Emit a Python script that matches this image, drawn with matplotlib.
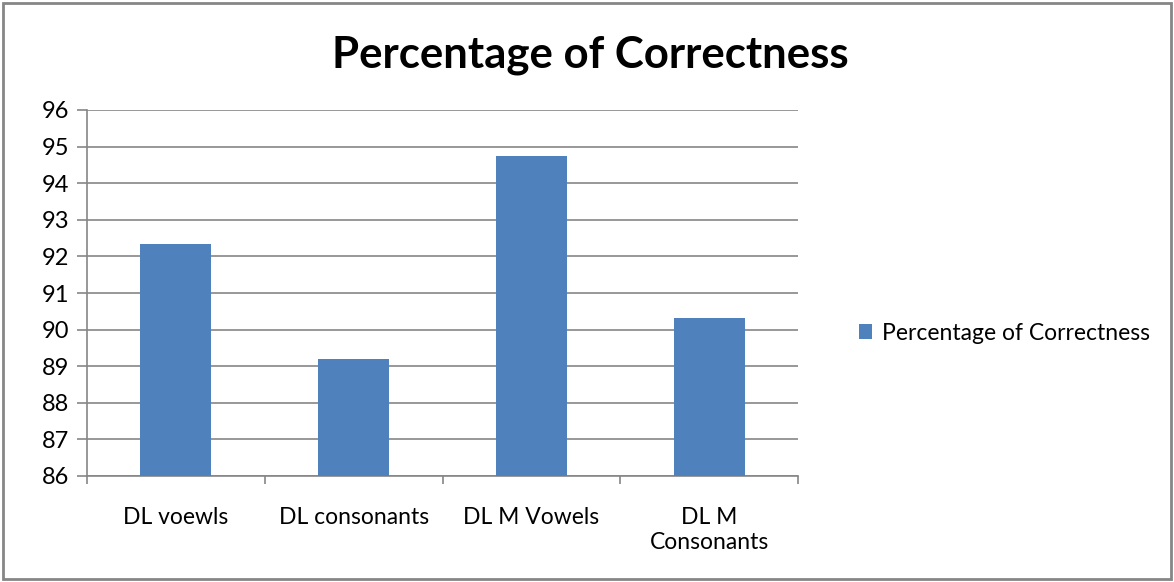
import matplotlib.pyplot as plt
from matplotlib.patches import Rectangle
import numpy as np

categories = ["DL voewls", "DL consonants", "DL M Vowels", "DL M\nConsonants"]
values = [92.34, 89.20, 94.74, 90.32]
series_name = "Percentage of Correctness"
y_ticks = list(range(86, 97))

BAR = "#4f81bd"
GRID = "#868686"

plt.rcParams['font.family'] = ['Lato', 'DejaVu Sans']

W, H = 1174, 582
fig = plt.figure(figsize=(W / 100, H / 100), dpi=100)
ax = fig.add_axes([87 / W, 1 - 476 / H, (798 - 87) / W, (476 - 110) / H])

x = np.arange(len(categories))
ax.bar(x, values, width=0.4, color=BAR, label=series_name, zorder=3)

ax.set_xlim(-0.5, len(categories) - 0.5)
ax.set_ylim(86, 96)
ax.set_yticks(y_ticks)
ax.yaxis.grid(True, color=GRID, linewidth=1.2, zorder=0)
ax.tick_params(axis='y', length=7, width=1.2, color=GRID, labelsize=17, pad=6)

# category labels centred, tick marks between categories
ax.set_xticks(x)
ax.set_xticklabels(categories, fontsize=16.5, linespacing=1.25)
ax.set_xticks(np.arange(-0.5, len(categories)), minor=True)
ax.tick_params(axis='x', which='major', length=0, pad=22)
ax.tick_params(axis='x', which='minor', length=6, width=1.2, color=GRID)

for side in ['top', 'right']:
    ax.spines[side].set_visible(False)
for side in ['left', 'bottom']:
    ax.spines[side].set_color(GRID)
    ax.spines[side].set_linewidth(1.2)

fig.text(590 / W, 1 - 55 / H, "Percentage of Correctness", ha='center', va='center',
         fontsize=31.5, fontweight='bold')

ax.legend(loc='center left', bbox_to_anchor=(838 / W, 1 - 333 / H),
          bbox_transform=fig.transFigure, frameon=False, fontsize=16.5,
          handlelength=0.6, handleheight=0.6, handletextpad=0.4)

# chart frame
fig.patches.append(Rectangle((3 / W, 3 / H), 1 - 6 / W, 1 - 6 / H, transform=fig.transFigure,
                             fill=False, edgecolor=GRID, linewidth=2))

fig.savefig("out.png", dpi=100)
